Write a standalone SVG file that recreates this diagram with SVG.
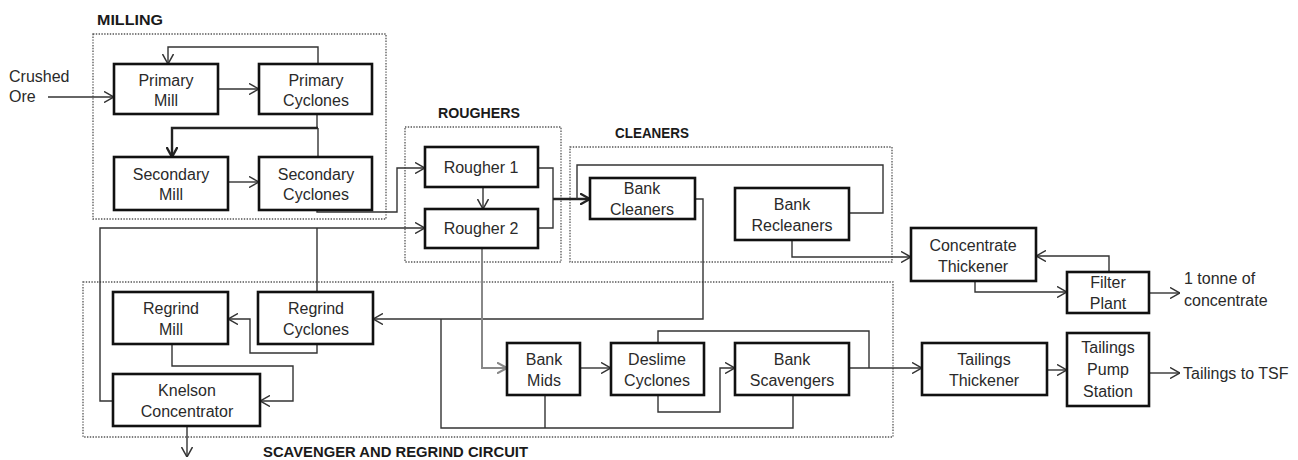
<svg xmlns="http://www.w3.org/2000/svg" width="1298" height="460" viewBox="0 0 1298 460">
<style>
  .box{fill:#fff;stroke:#111;stroke-width:2.6}
  .zone{fill:none;stroke:#555;stroke-width:1.3;stroke-dasharray:1.4 1.4}
  .t{font-family:"Liberation Sans",Arial,sans-serif;font-size:16px;fill:#2a2a2a;text-anchor:middle}
  .tl{font-family:"Liberation Sans",Arial,sans-serif;font-size:16px;fill:#2a2a2a}
  .lab{font-family:"Liberation Sans",Arial,sans-serif;font-size:15px;font-weight:bold;fill:#1a1a1a}
  .c{fill:none;stroke:#333;stroke-width:1.4}
  .thick{stroke-width:2.4;stroke:#222}
  .gray{stroke:#888;stroke-width:2}
</style>
<defs>
  <marker id="a" viewBox="0 0 10 12" refX="10" refY="6" markerWidth="10" markerHeight="12" markerUnits="userSpaceOnUse" orient="auto">
    <path d="M0,0.5 L10,6 L0,11.5" fill="none" stroke="#333" stroke-width="1.5"/>
  </marker>
  <marker id="ag" viewBox="0 0 10 12" refX="10" refY="6" markerWidth="10" markerHeight="12" markerUnits="userSpaceOnUse" orient="auto">
    <path d="M0,0.5 L10,6 L0,11.5" fill="none" stroke="#888" stroke-width="2"/>
  </marker>
  <marker id="at" viewBox="0 0 10 12" refX="10" refY="6" markerWidth="10" markerHeight="12" markerUnits="userSpaceOnUse" orient="auto">
    <path d="M0,0.5 L10,6 L0,11.5" fill="none" stroke="#222" stroke-width="2.4"/>
  </marker>
</defs>

<g id="zones">
  <rect class="zone" x="93" y="34" width="293" height="185"/>
  <text class="lab" x="97" y="25" textLength="66" lengthAdjust="spacingAndGlyphs">MILLING</text>
  <rect class="zone" x="405" y="127" width="156" height="135"/>
  <text class="lab" x="438" y="118" textLength="82" lengthAdjust="spacingAndGlyphs">ROUGHERS</text>
  <rect class="zone" x="570" y="147" width="322" height="115"/>
  <text class="lab" x="615" y="138" textLength="74" lengthAdjust="spacingAndGlyphs">CLEANERS</text>
  <rect class="zone" x="83" y="282" width="810" height="155"/>
  <text class="lab" x="263" y="457" textLength="265" lengthAdjust="spacingAndGlyphs">SCAVENGER AND REGRIND CIRCUIT</text>
</g>

<g id="connectors">
  <path class="c" d="M48,97 H114" marker-end="url(#a)"/>
  <path class="c" d="M218,89 H259" marker-end="url(#a)"/>
  <path class="c" d="M318,64 V47 H168 V64" marker-end="url(#a)"/>
  <path class="c" d="M317,114 V128"/>
  <path class="c thick" d="M318,128 H172 V157" marker-end="url(#at)"/>
  <path class="c" d="M318,157 V128"/>
  <path class="c" d="M228,182 H259" marker-end="url(#a)"/>
  <path class="c" d="M317,210 V212 H397 V168 H425" marker-end="url(#a)"/>
  <path class="c" d="M483,187 V209" marker-end="url(#a)"/>
  <path class="c" d="M538,168 H553 V228 H538"/>
  <path class="c thick" d="M553,199 H590" marker-end="url(#at)"/>
  <path class="c" d="M577,199 V165 H883 V213 H849"/>
  <path class="c" d="M792,240 V257 H911" marker-end="url(#a)"/>
  <path class="c" d="M695,199 H703 V319 H373" marker-end="url(#a)"/>
  <path class="c" d="M1109,272 V256 H1036" marker-end="url(#a)"/>
  <path class="c" d="M975,281 V292 H1067" marker-end="url(#a)"/>
  <path class="c" d="M1149,293 H1180" marker-end="url(#a)"/>
  <path class="c" d="M1047,370 H1067" marker-end="url(#a)"/>
  <path class="c" d="M1149,373 H1180" marker-end="url(#a)"/>
  <path class="c" d="M849,368 H922" marker-end="url(#a)"/>
  <path class="c" d="M658,343 V331 H869 V368"/>
  <path class="c" d="M658,395 V412 H720 V368 H735" marker-end="url(#a)"/>
  <path class="c" d="M580,368 H611" marker-end="url(#a)"/>
  <path class="c gray" d="M482,248 V368 H507" marker-end="url(#ag)"/>
  <path class="c" d="M441,319 V428 H793 V395"/>
  <path class="c" d="M545,395 V428"/>
  <path class="c" d="M317,292 V228"/>
  <path class="c" d="M113,401 H100 V228 H425" marker-end="url(#a)"/>
  <path class="c" d="M317,344 V353 H250 V319 H228" marker-end="url(#a)"/>
  <path class="c" d="M172,344 V366 H293 V401 H260" marker-end="url(#a)"/>
  <path class="c" d="M187,426 V457" marker-end="url(#a)"/>
</g>

<g id="free-text">
  <text class="tl" x="9" y="82">Crushed</text>
  <text class="tl" x="9" y="102">Ore</text>
  <text class="tl" x="1184" y="284">1 tonne of</text>
  <text class="tl" x="1184" y="306">concentrate</text>
  <text class="tl" x="1183" y="379">Tailings to TSF</text>
</g>

<g id="primary-mill"><rect class="box" x="114" y="64" width="104" height="50"/><text class="t" x="166" y="86">Primary</text><text class="t" x="166" y="106">Mill</text></g>
<g id="primary-cyclones"><rect class="box" x="259" y="64" width="113" height="50"/><text class="t" x="316" y="86">Primary</text><text class="t" x="316" y="106">Cyclones</text></g>
<g id="secondary-mill"><rect class="box" x="114" y="157" width="114" height="53"/><text class="t" x="171" y="180">Secondary</text><text class="t" x="171" y="200">Mill</text></g>
<g id="secondary-cyclones"><rect class="box" x="259" y="157" width="113" height="53"/><text class="t" x="316" y="180">Secondary</text><text class="t" x="316" y="200">Cyclones</text></g>
<g id="rougher-1"><rect class="box" x="425" y="147" width="113" height="40"/><text class="t" x="481" y="173">Rougher 1</text></g>
<g id="rougher-2"><rect class="box" x="425" y="209" width="113" height="39"/><text class="t" x="481" y="234">Rougher 2</text></g>
<g id="bank-cleaners"><rect class="box" x="590" y="178" width="105" height="41"/><text class="t" x="642" y="194">Bank</text><text class="t" x="642" y="215">Cleaners</text></g>
<g id="bank-recleaners"><rect class="box" x="735" y="188" width="114" height="52"/><text class="t" x="792" y="210">Bank</text><text class="t" x="792" y="231">Recleaners</text></g>
<g id="concentrate-thickener"><rect class="box" x="911" y="228" width="125" height="53"/><text class="t" x="973" y="251">Concentrate</text><text class="t" x="973" y="272">Thickener</text></g>
<g id="filter-plant"><rect class="box" x="1067" y="272" width="82" height="41"/><text class="t" x="1108" y="288">Filter</text><text class="t" x="1108" y="309">Plant</text></g>
<g id="regrind-mill"><rect class="box" x="113" y="292" width="115" height="52"/><text class="t" x="171" y="314">Regrind</text><text class="t" x="171" y="335">Mill</text></g>
<g id="regrind-cyclones"><rect class="box" x="258" y="292" width="115" height="52"/><text class="t" x="316" y="314">Regrind</text><text class="t" x="316" y="335">Cyclones</text></g>
<g id="knelson-concentrator"><rect class="box" x="113" y="374" width="147" height="52"/><text class="t" x="187" y="396">Knelson</text><text class="t" x="187" y="417">Concentrator</text></g>
<g id="bank-mids"><rect class="box" x="507" y="343" width="73" height="52"/><text class="t" x="544" y="365">Bank</text><text class="t" x="544" y="386">Mids</text></g>
<g id="deslime-cyclones"><rect class="box" x="611" y="343" width="93" height="52"/><text class="t" x="657" y="365">Deslime</text><text class="t" x="657" y="386">Cyclones</text></g>
<g id="bank-scavengers"><rect class="box" x="735" y="343" width="114" height="52"/><text class="t" x="792" y="365">Bank</text><text class="t" x="792" y="386">Scavengers</text></g>
<g id="tailings-thickener"><rect class="box" x="922" y="343" width="125" height="52"/><text class="t" x="984" y="365">Tailings</text><text class="t" x="984" y="386">Thickener</text></g>
<g id="tailings-pump-station"><rect class="box" x="1067" y="333" width="82" height="73"/><text class="t" x="1108" y="353">Tailings</text><text class="t" x="1108" y="375">Pump</text><text class="t" x="1108" y="397">Station</text></g>
</svg>
